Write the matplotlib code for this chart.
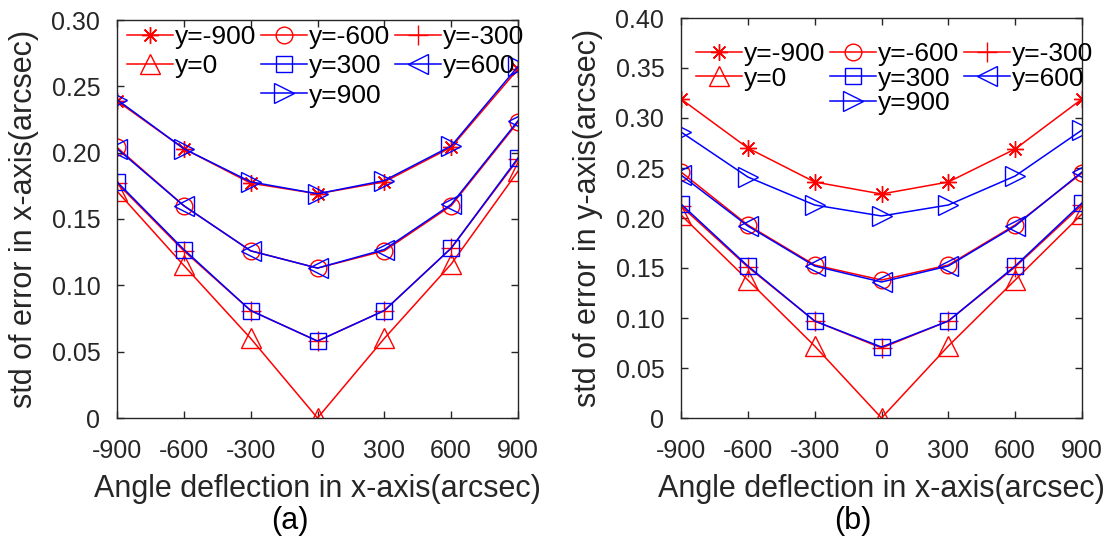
import matplotlib
matplotlib.use("Agg")
import matplotlib.pyplot as plt
from matplotlib.lines import Line2D
from matplotlib.ticker import FuncFormatter

plt.rcParams['font.family'] = ['Liberation Sans', 'DejaVu Sans']
plt.rcParams['axes.unicode_minus'] = False

angles = [-900, -600, -300, 0, 300, 600, 900]
series_labels = ['y=-900', 'y=-600', 'y=-300', 'y=0', 'y=300', 'y=600', 'y=900']

# (a) std of error in x-axis
std_x = {
    'y=-900': [0.239, 0.203, 0.177, 0.169, 0.178, 0.204, 0.263],
    'y=-600': [0.204, 0.160, 0.126, 0.113, 0.126, 0.160, 0.223],
    'y=-300': [0.177, 0.126, 0.081, 0.058, 0.081, 0.128, 0.195],
    'y=0':    [0.171, 0.115, 0.060, 0.000, 0.060, 0.116, 0.186],
    'y=300':  [0.178, 0.127, 0.081, 0.058, 0.081, 0.128, 0.196],
    'y=600':  [0.203, 0.160, 0.126, 0.113, 0.127, 0.161, 0.224],
    'y=900':  [0.240, 0.203, 0.178, 0.169, 0.179, 0.205, 0.265],
}

# (b) std of error in y-axis
std_y = {
    'y=-900': [0.319, 0.270, 0.236, 0.224, 0.236, 0.269, 0.319],
    'y=-600': [0.246, 0.193, 0.153, 0.138, 0.153, 0.193, 0.245],
    'y=-300': [0.212, 0.151, 0.097, 0.070, 0.097, 0.151, 0.213],
    'y=0':    [0.203, 0.138, 0.072, 0.000, 0.072, 0.138, 0.204],
    'y=300':  [0.214, 0.152, 0.097, 0.071, 0.097, 0.152, 0.215],
    'y=600':  [0.243, 0.192, 0.152, 0.136, 0.152, 0.192, 0.246],
    'y=900':  [0.286, 0.241, 0.213, 0.202, 0.213, 0.242, 0.288],
}

styles = {
    'y=-900': ('red', (8, 2, 0), 12),
    'y=-600': ('red', 'o', 12),
    'y=-300': ('red', '+', 14),
    'y=0':    ('red', '^', 14),
    'y=300':  ('blue', 's', 11),
    'y=600':  ('blue', '<', 14),
    'y=900':  ('blue', '>', 14),
}

fig = plt.figure(figsize=(11.13, 5.39), dpi=100)
axA = fig.add_axes([117/1113, 1-418/539, 401/1113, 398/539])
axB = fig.add_axes([681/1113, 1-418/539, 401/1113, 400/539])

spine_c = '#262626'

def fmt(v, pos):
    return '0' if abs(v) < 1e-9 else f'{v:.2f}'

def draw(ax, data, ymax, ylabel, leg_anchor, leg_fs, leg_ls):
    handles = {}
    for lab in series_labels:
        c, m, ms = styles[lab]
        h, = ax.plot(angles, data[lab], color=c, marker=m, markersize=ms,
                     markerfacecolor='none', markeredgecolor=c,
                     markeredgewidth=1.0, linewidth=1.1, label=lab)
        handles[lab] = h
    ax.set_xlim(-900, 900)
    ax.set_ylim(0, ymax)
    ax.set_xticks(angles)
    yt = [i * 0.05 for i in range(int(round(ymax / 0.05)) + 1)]
    ax.set_yticks(yt)
    ax.yaxis.set_major_formatter(FuncFormatter(fmt))
    ax.tick_params(direction='in', length=5, width=1, top=True, right=True,
                   colors=spine_c, labelsize=18, labelcolor='#262626')
    ax.tick_params(axis='x', pad=15)
    ax.tick_params(axis='y', pad=12)
    for s in ax.spines.values():
        s.set_color(spine_c)
        s.set_linewidth(1.0)
    ax.set_xlabel('Angle deflection in x-axis(arcsec)', fontsize=22,
                  color='#262626', labelpad=8)
    ax.set_ylabel(ylabel, fontsize=22, color='#262626', labelpad=9)
    blank = Line2D([], [], linestyle='none', marker=None)
    order = [handles['y=-900'], handles['y=0'], blank,
             handles['y=-600'], handles['y=300'], handles['y=900'],
             handles['y=-300'], handles['y=600'], blank]
    labels = ['y=-900', 'y=0', '', 'y=-600', 'y=300', 'y=900',
              'y=-300', 'y=600', '']
    leg = ax.legend(order, labels, ncol=3, loc='upper left',
                    bbox_to_anchor=leg_anchor, frameon=False,
                    fontsize=leg_fs, handlelength=1.75, handletextpad=0.05,
                    columnspacing=0.2, labelspacing=leg_ls, borderpad=0,
                    borderaxespad=0, numpoints=1)
    for t in leg.get_texts():
        t.set_color('black')

draw(axA, std_x, 0.30, 'std of error in x-axis(arcsec)', (0.025, 0.987), 19, 0.2)
draw(axB, std_y, 0.40, 'std of error in y-axis(arcsec)', (0.0375, 0.94), 19, 0.02)

fig.text(290/1113, 1-521/539, '(a)', fontsize=22, ha='center', va='center', color='black')
fig.text(853/1113, 1-521/539, '(b)', fontsize=22, ha='center', va='center', color='black')

fig.savefig('out.png', dpi=100)
